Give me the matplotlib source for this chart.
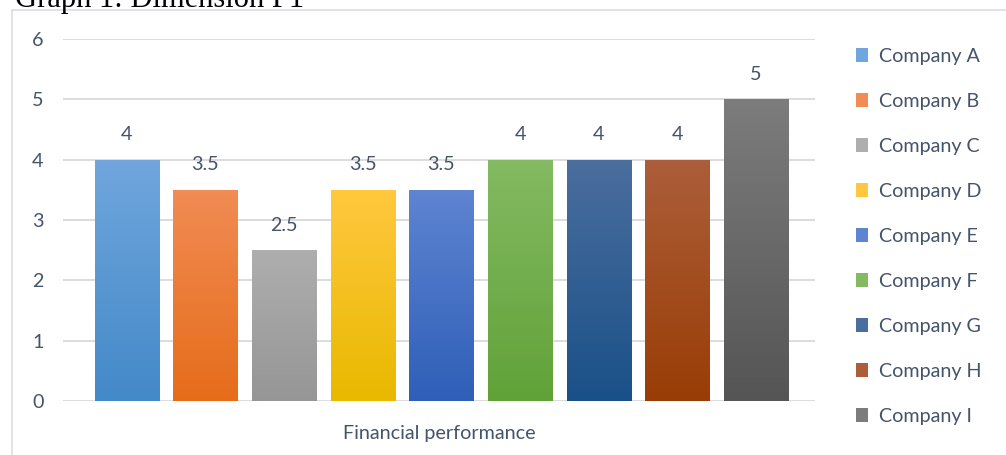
import matplotlib
matplotlib.use("Agg")
import matplotlib.pyplot as plt
import numpy as np
from matplotlib.colors import to_rgb
from matplotlib.patches import Rectangle

categories = ["Company A", "Company B", "Company C", "Company D", "Company E",
              "Company F", "Company G", "Company H", "Company I"]
values = [4, 3.5, 2.5, 3.5, 3.5, 4, 4, 4, 5]
labels = ["4", "3.5", "2.5", "3.5", "3.5", "4", "4", "4", "5"]
top_colors = ["#70A6DD", "#F18C54", "#AEAEAE", "#FFC83E", "#5E84D2",
              "#84BA62", "#4A6E9E", "#AC5E3A", "#7C7C7C"]
bottom_colors = ["#4489C8", "#E66C1A", "#969696", "#E8B900", "#2F5FB8",
                 "#61A238", "#1A5088", "#993D06", "#555555"]
xlabel = "Financial performance"
title = "Graph 1: Dimension F1"
yticks = [0, 1, 2, 3, 4, 5, 6]

TXT = "#44546A"
FS = 14.2
plt.rcParams['font.family'] = ['Lato', 'DejaVu Sans']

fig = plt.figure(figsize=(10.06, 4.55), dpi=100)
W, H = 1006, 455

# outer border
fig.patches.append(Rectangle((12 / W, -0.1), 1.2, (455 - 10) / H + 0.1,
                             transform=fig.transFigure, fill=False,
                             edgecolor="#D9DEE4", linewidth=1.2))
fig.text(15 / W, (H - 7) / H, title, family="Liberation Serif",
         fontsize=22, color="black", va="baseline", ha="left")

ax = fig.add_axes([63 / W, (H - 401) / H, (815 - 63) / W, (401 - 39) / H])
x = np.arange(len(categories))
bars = ax.bar(x, values, width=0.815, color=top_colors, zorder=2)
for b, tc, bc in zip(bars, top_colors, bottom_colors):
    x0, y0 = b.get_x(), b.get_y()
    w, h = b.get_width(), b.get_height()
    grad = np.linspace(0, 1, 64)[:, None, None]
    img = (1 - grad) * np.array(to_rgb(tc)) + grad * np.array(to_rgb(bc))
    im = ax.imshow(img, extent=[x0, x0 + w, y0, y0 + h], origin="upper",
                   aspect="auto", zorder=2.5)
    im.set_clip_path(b)

for xi, v, lab in zip(x, values, labels):
    ax.annotate(lab, (xi, v), xytext=(0, 18), textcoords="offset points",
                ha="center", va="center", fontsize=FS, color=TXT)

ax.set_xlim(-0.81, 8.75)
ax.set_ylim(0, 6)
ax.set_yticks(yticks)
ax.set_yticklabels([str(t) for t in yticks])
ax.set_xticks([])
ax.grid(axis="y", color="#D9D9D9", linewidth=1.3, zorder=0)
ax.set_axisbelow(True)
for s in ax.spines.values():
    s.set_visible(False)
ax.tick_params(axis="y", length=0, pad=14, labelsize=FS, labelcolor=TXT)
ax.set_xlabel(xlabel, fontsize=FS, color=TXT, labelpad=17)

handles = [Rectangle((0, 0), 1, 1, facecolor=c) for c in top_colors]
fig.legend(handles, categories, loc="upper left",
           bbox_to_anchor=(838 / W, (H - 30) / H), frameon=False,
           fontsize=FS, labelcolor=TXT, handlelength=0.62, handleheight=0.72,
           handletextpad=0.55, labelspacing=1.42)

fig.savefig("out.png", dpi=100)
